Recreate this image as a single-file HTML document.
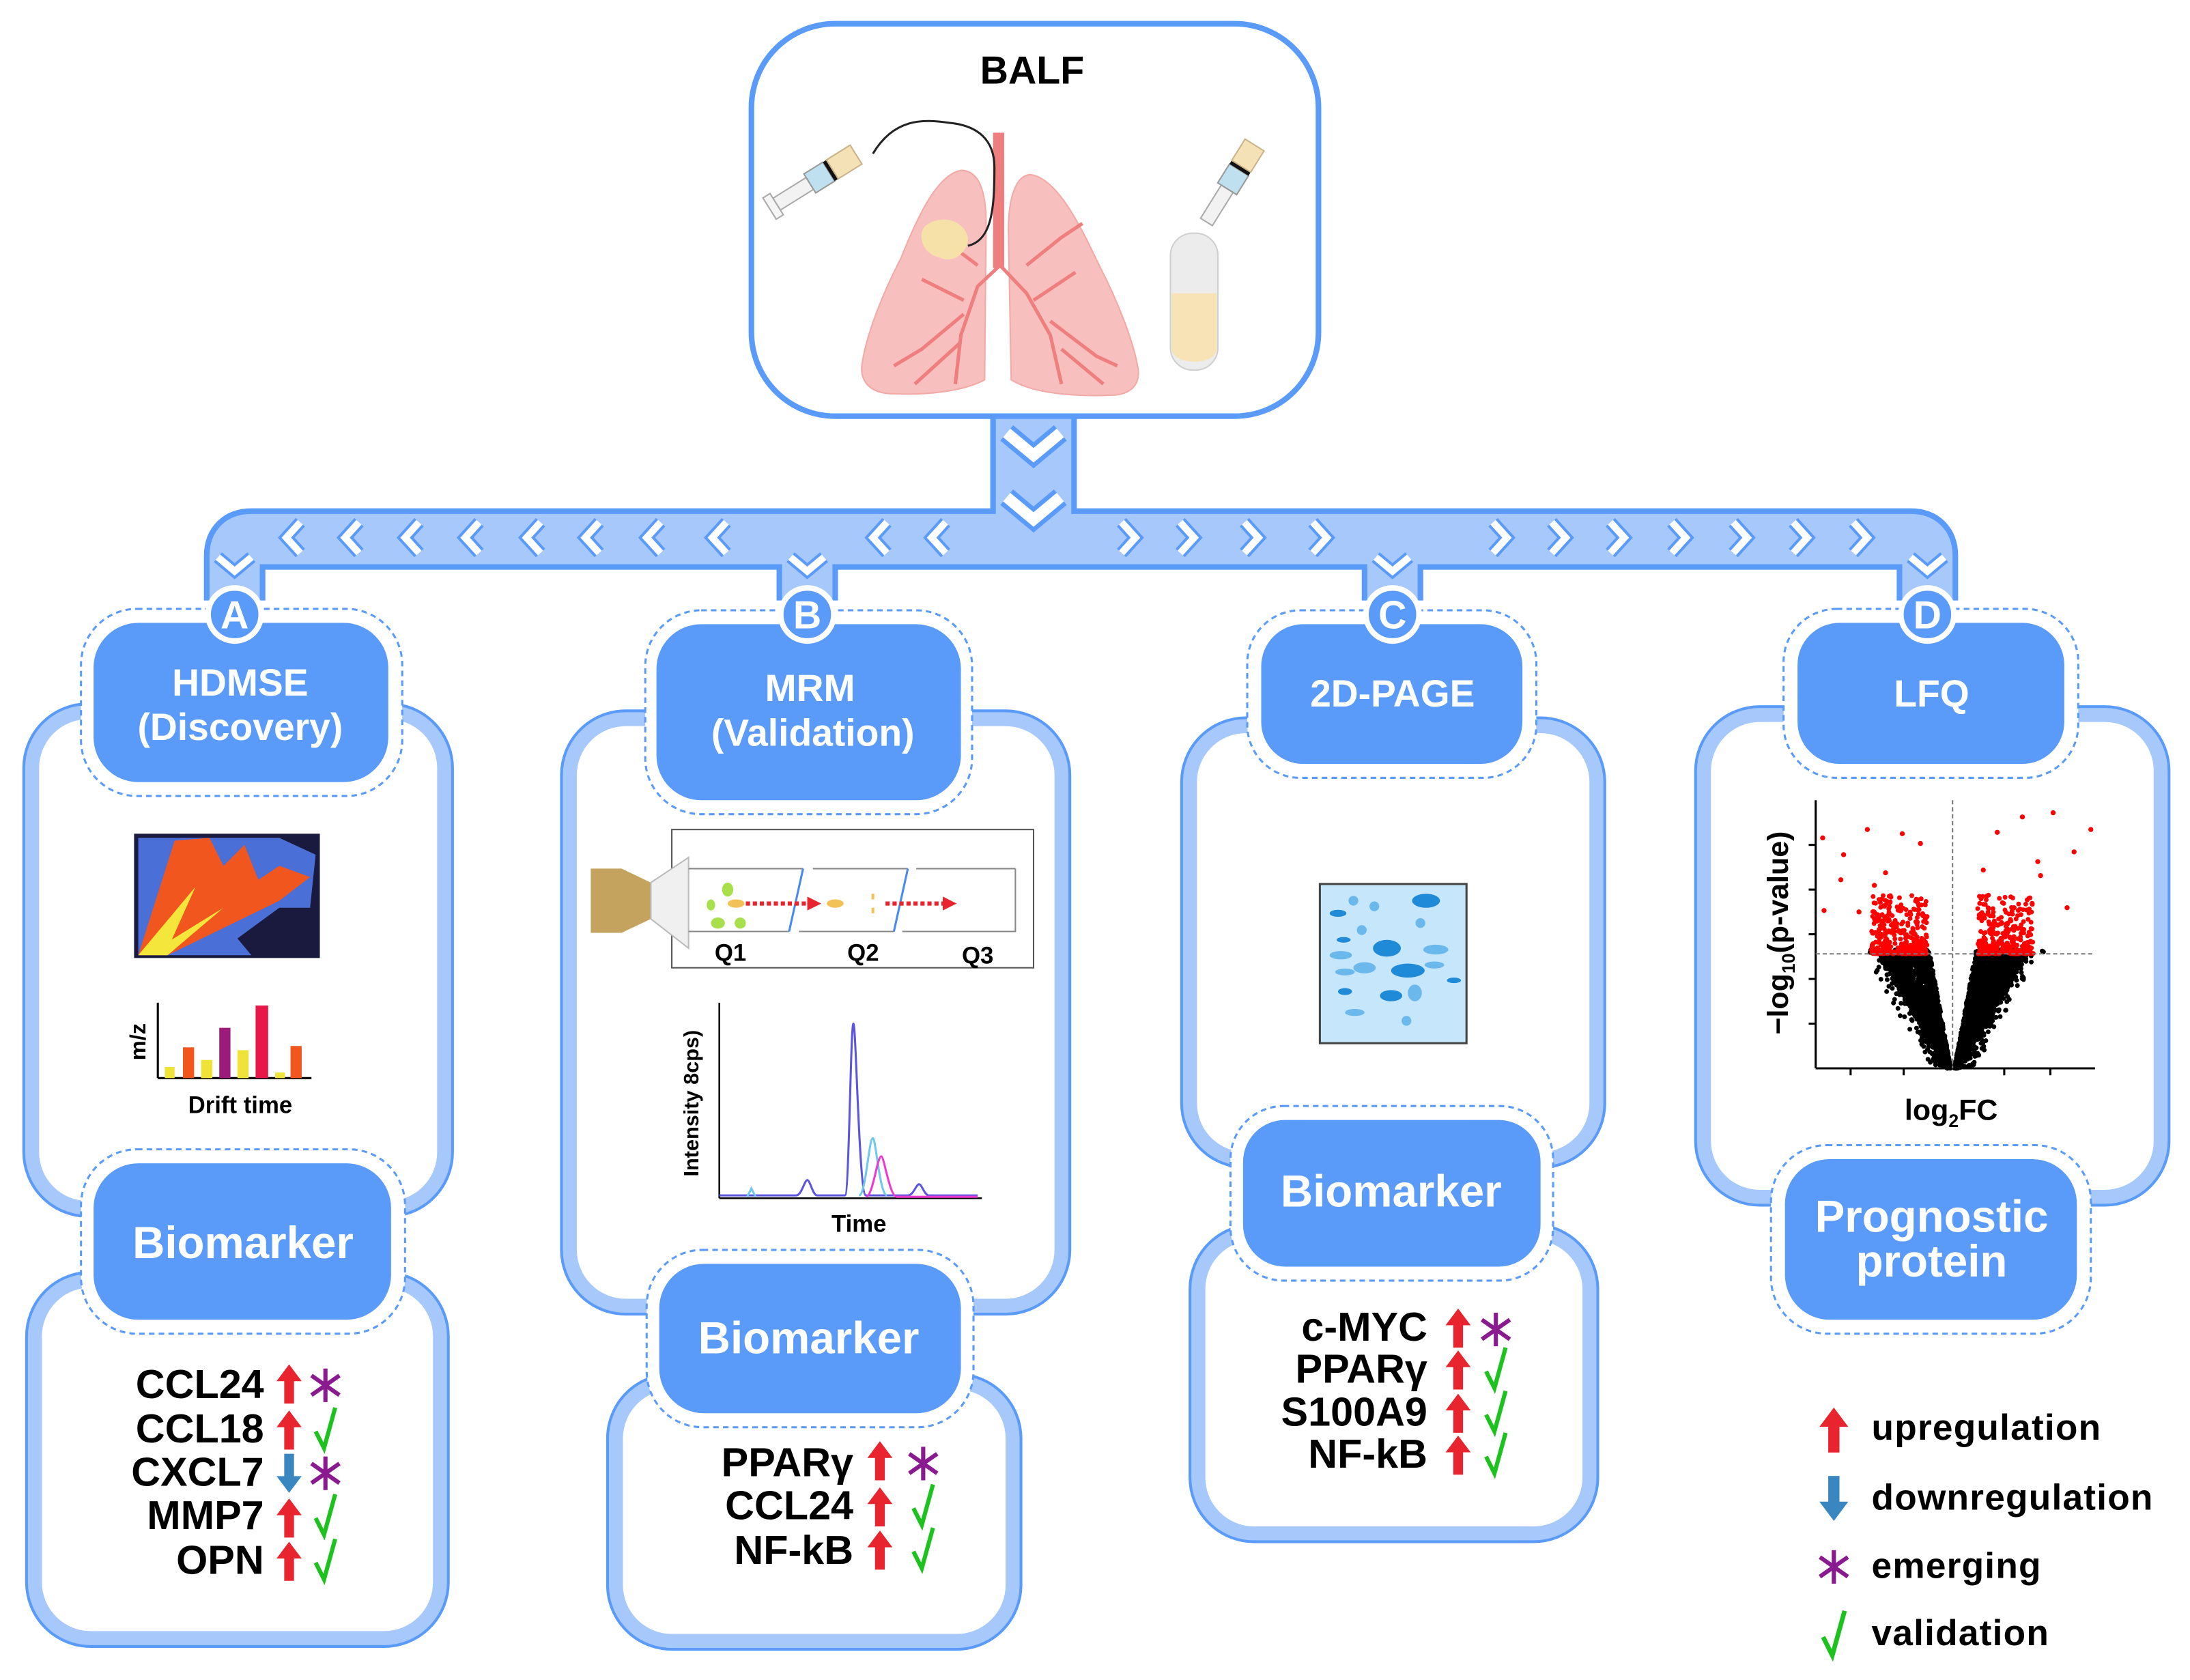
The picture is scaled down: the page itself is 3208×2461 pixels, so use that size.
<!DOCTYPE html>
<html><head><meta charset="utf-8">
<style>
html,body{margin:0;padding:0;background:#fff}
svg{display:block}
text{font-family:"Liberation Sans",Arial,sans-serif;font-weight:bold}
</style></head>
<body>
<svg id="s" width="3208" height="2461" viewBox="0 0 1568 1203" preserveAspectRatio="none" xmlns="http://www.w3.org/2000/svg">
<defs>
<g id="up"><polygon points="0,-14 9,-2 3.5,-2 3.5,14 -3.5,14 -3.5,-2 -9,-2" fill="#e8252f"/></g>
<g id="dn"><polygon points="0,14 9,2 3.5,2 3.5,-14 -3.5,-14 -3.5,2 -9,2" fill="#3a86c0"/></g>
<g id="ck"><path d="M-7,2 L-1,14 L7,-15" fill="none" stroke="#1ec21e" stroke-width="3"/></g>
<g id="st" stroke="#8a1a90" stroke-width="3"><line x1="0" y1="-12" x2="0" y2="12"/><line x1="-10" y1="-7" x2="10" y2="7"/><line x1="-10" y1="7" x2="10" y2="-7"/></g>
<g id="cl"><polyline points="7,-11 -3,0 7,11" fill="none" stroke="#5a9bfa" stroke-width="9" stroke-linejoin="miter"/><polyline points="7,-11 -3,0 7,11" fill="none" stroke="#fff" stroke-width="5"/></g>
<g id="cr"><polyline points="-7,-11 3,0 -7,11" fill="none" stroke="#5a9bfa" stroke-width="9"/><polyline points="-7,-11 3,0 -7,11" fill="none" stroke="#fff" stroke-width="5"/></g>
<g id="cd"><polyline points="-12,-5 0,5 12,-5" fill="none" stroke="#5a9bfa" stroke-width="9"/><polyline points="-12,-5 0,5 12,-5" fill="none" stroke="#fff" stroke-width="5"/></g>
</defs>

<!-- BALF box -->
<rect x="538" y="17" width="406" height="281" rx="60" fill="#fff" stroke="#5a9bfa" stroke-width="4"/>
<text x="739" y="60" font-size="28" text-anchor="middle" fill="#000">BALF</text>
<!-- lungs -->
<path d="M688,122 C670,125 655,160 645,185 C632,210 620,240 617,262 C616,275 625,282 640,282 C665,283 690,280 705,272 L706,160 C706,135 700,122 688,122Z" fill="#f7bfbd" stroke="#f3a9a6"/>
<path d="M738,125 C758,128 775,165 787,190 C800,215 812,245 815,265 C816,277 808,283 795,283 C770,284 740,282 724,272 L722,165 C722,140 728,125 738,125Z" fill="#f7bfbd" stroke="#f3a9a6"/>
<path d="M716,190 L700,205 L688,240 L684,275 M716,190 L735,210 L752,240 L760,275 M690,225 L660,250 L640,262 M690,215 L660,200 M688,245 L655,275 M752,230 L785,255 L800,262 M740,215 L770,195 M760,250 L790,275 M700,190 L680,175 M735,190 L760,170 M680,175 L665,165 M760,170 L775,160" fill="none" stroke="#ee7f7e" stroke-width="2.5"/>
<path d="M715,95 L715,192" fill="none" stroke="#ee7f7e" stroke-width="8"/>
<path d="M665,160 C655,165 660,182 672,184 C682,190 694,180 693,170 C690,158 676,154 665,160Z" fill="#f6e1a9"/>
<path d="M693,176 C710,172 712,150 712,120 C712,100 700,90 680,88 C660,85 640,85 625,110" fill="none" stroke="#222" stroke-width="1.5"/>
<!-- syringes -->
<g transform="translate(590,125) rotate(-32)"><rect x="-40" y="-5" width="28" height="10" fill="#f2f2f2" stroke="#aaa"/><rect x="-12" y="-8" width="16" height="16" fill="#bfe0ee" stroke="#999"/><rect x="4" y="-8" width="3" height="16" fill="#111"/><rect x="7" y="-8" width="20" height="16" fill="#f4e1b5" stroke="#c9b48a"/><rect x="-46" y="-9" width="6" height="18" fill="#f5f5f5" stroke="#aaa"/></g>
<g transform="translate(885,125) rotate(-58)"><rect x="-40" y="-5" width="28" height="10" fill="#f2f2f2" stroke="#aaa"/><rect x="-12" y="-8" width="16" height="16" fill="#bfe0ee" stroke="#999"/><rect x="4" y="-8" width="3" height="16" fill="#111"/><rect x="7" y="-8" width="18" height="16" fill="#f4e1b5" stroke="#c9b48a"/></g>
<rect x="838" y="167" width="34" height="98" rx="16" fill="#ececec" stroke="#cfcfcf"/>
<path d="M839,210 L871,210 L871,250 C871,262 839,262 839,250Z" fill="#f8e3b6"/>

<!-- connector bands -->
<g fill="none" stroke-linejoin="round" stroke-linecap="butt">
<path d="M168,430 L168,398 Q168,386 180,386 L1368,386 Q1380,386 1380,398 L1380,430 M578,386 L578,430 M997,386 L997,430" stroke="#5a9bfa" stroke-width="44"/>
<path d="M740,296 L740,386" stroke="#5a9bfa" stroke-width="62"/>
<path d="M168,432 L168,398 Q168,386 180,386 L1368,386 Q1380,386 1380,398 L1380,432 M578,386 L578,432 M997,386 L997,432" stroke="#a6c8fb" stroke-width="36"/>
<path d="M740,300 L740,386" stroke="#a6c8fb" stroke-width="54"/>
</g>
<use href="#cd" x="740" y="318" transform="translate(740,318) scale(1.6) translate(-740,-318)"/>
<use href="#cd" x="740" y="364" transform="translate(740,364) scale(1.6) translate(-740,-364)"/>
<use href="#cl" x="208" y="385"/><use href="#cl" x="250" y="385"/><use href="#cl" x="293" y="385"/><use href="#cl" x="336" y="385"/><use href="#cl" x="380" y="385"/><use href="#cl" x="422" y="385"/><use href="#cl" x="466" y="385"/><use href="#cl" x="513" y="385"/><use href="#cl" x="628" y="385"/><use href="#cl" x="670" y="385"/>
<use href="#cr" x="810" y="385"/><use href="#cr" x="852" y="385"/><use href="#cr" x="898" y="385"/><use href="#cr" x="947" y="385"/><use href="#cr" x="1076" y="385"/><use href="#cr" x="1118" y="385"/><use href="#cr" x="1160" y="385"/><use href="#cr" x="1204" y="385"/><use href="#cr" x="1248" y="385"/><use href="#cr" x="1291" y="385"/><use href="#cr" x="1334" y="385"/>
<use href="#cd" x="168" y="404"/><use href="#cd" x="578" y="404"/><use href="#cd" x="997" y="404"/><use href="#cd" x="1380" y="404"/>

<!-- outer band boxes -->
<g fill="#fff">
<g stroke="#5a9bfa" stroke-width="14">
<rect x="23" y="510" width="295" height="355" rx="40"/>
<rect x="25" y="917" width="290" height="256" rx="40"/>
<rect x="408" y="515" width="352" height="420" rx="40"/>
<rect x="441" y="990" width="284" height="185" rx="40"/>
<rect x="852" y="520" width="291" height="310" rx="40"/>
<rect x="858" y="883" width="280" height="215" rx="40"/>
<rect x="1220" y="512" width="327" height="345" rx="40"/>
</g>
<g stroke="#a6c8fb" stroke-width="10">
<rect x="23" y="510" width="295" height="355" rx="40"/>
<rect x="25" y="917" width="290" height="256" rx="40"/>
<rect x="408" y="515" width="352" height="420" rx="40"/>
<rect x="441" y="990" width="284" height="185" rx="40"/>
<rect x="852" y="520" width="291" height="310" rx="40"/>
<rect x="858" y="883" width="280" height="215" rx="40"/>
<rect x="1220" y="512" width="327" height="345" rx="40"/>
</g>
</g>

<!-- headers -->
<g>
<g fill="#fff" stroke="#5a9bfa" stroke-width="1.5" stroke-dasharray="4 3">
<rect x="58" y="436" width="230" height="134" rx="40"/>
<rect x="58" y="823" width="232" height="132" rx="40"/>
<rect x="462" y="437" width="234" height="146" rx="40"/>
<rect x="463" y="895" width="234" height="127" rx="40"/>
<rect x="893" y="437" width="207" height="120" rx="38"/>
<rect x="881" y="792" width="231" height="125" rx="38"/>
<rect x="1277" y="436" width="211" height="121" rx="38"/>
<rect x="1268" y="820" width="229" height="135" rx="40"/>
</g>
<g fill="#5a9bfa">
<rect x="67" y="446" width="211" height="114" rx="32"/>
<rect x="67" y="833" width="213" height="112" rx="32"/>
<rect x="470" y="447" width="218" height="126" rx="32"/>
<rect x="472" y="905" width="216" height="107" rx="32"/>
<rect x="903" y="447" width="187" height="100" rx="30"/>
<rect x="890" y="802" width="213" height="105" rx="30"/>
<rect x="1287" y="446" width="191" height="101" rx="30"/>
<rect x="1278" y="830" width="209" height="115" rx="32"/>
</g>
<g fill="#fff" font-size="27" text-anchor="middle">
<text x="172" y="498">HDMSE</text><text x="172" y="530">(Discovery)</text>
<text x="174" y="901" font-size="32">Biomarker</text>
<text x="580" y="502">MRM</text><text x="582" y="534">(Validation)</text>
<text x="579" y="969" font-size="32">Biomarker</text>
<text x="997" y="506">2D-PAGE</text>
<text x="996" y="864" font-size="32">Biomarker</text>
<text x="1383" y="506">LFQ</text>
<text x="1383" y="882" font-size="32">Prognostic</text><text x="1383" y="914" font-size="32">protein</text>
</g>
</g>
<!-- letter circles -->
<g stroke="#fff" stroke-width="4" fill="#5a9bfa">
<circle cx="168" cy="440" r="19"/><circle cx="578" cy="440" r="19"/><circle cx="997" cy="440" r="19"/><circle cx="1380" cy="440" r="19"/>
</g>
<g fill="#fff" font-size="28" text-anchor="middle">
<text x="168" y="450">A</text><text x="578" y="450">B</text><text x="997" y="450">C</text><text x="1380" y="450">D</text>
</g>

<!-- HDMSE image -->
<rect x="96" y="597" width="133" height="89" fill="#1a1a3e"/>
<path d="M99,600 L200,600 L226,612 L222,650 L200,650 L170,672 L180,684 L99,684Z" fill="#4a6fd6"/>
<path d="M99,684 L125,602 L150,600 L160,620 L175,605 L185,630 L200,620 L222,628 L200,645 L120,684Z" fill="#f0561e"/>
<path d="M99,684 L140,635 L118,684Z M105,684 L160,650 L120,684Z" fill="#f4e63a"/>
<!-- bar chart -->
<g><line x1="113" y1="718" x2="113" y2="772" stroke="#000" stroke-width="1.5"/><line x1="113" y1="772" x2="223" y2="772" stroke="#000" stroke-width="1.5"/>
<rect x="118" y="764" width="7" height="8" fill="#efe33a"/><rect x="131" y="750" width="8" height="22" fill="#f0561e"/><rect x="144" y="759" width="8" height="13" fill="#efe33a"/><rect x="157" y="736" width="8" height="36" fill="#9b1a7a"/><rect x="170" y="752" width="8" height="20" fill="#efe33a"/><rect x="183" y="720" width="9" height="52" fill="#e8174a"/><rect x="197" y="768" width="7" height="4" fill="#efe33a"/><rect x="208" y="749" width="8" height="23" fill="#f0561e"/></g>
<text x="104" y="746" font-size="16" transform="rotate(-90 104 746)" text-anchor="middle">m/z</text>
<text x="172" y="797" font-size="17" text-anchor="middle">Drift time</text>

<!-- MRM diagram -->
<rect x="481" y="594" width="259" height="99" fill="#fff" stroke="#555" stroke-width="1"/>
<polygon points="423,622 445,622 466,632 466,658 445,668 423,668" fill="#c3a35e"/>
<polygon points="466,632 493,614 493,679 466,658" fill="#f0f0f0" stroke="#bbb"/>
<g stroke="#888" fill="none"><path d="M493,622 L575,622 M493,667 L565,667 M582,622 L650,622 M572,667 L640,667 M656,622 L727,622 M646,667 L727,667 L727,622"/></g>
<g stroke="#4a8af0" stroke-width="1.5"><line x1="575" y1="622" x2="565" y2="667"/><line x1="650" y1="622" x2="640" y2="667"/></g>
<g fill="#a7e04a"><ellipse cx="521" cy="637" rx="4" ry="5"/><ellipse cx="509" cy="648" rx="3" ry="4"/><ellipse cx="514" cy="661" rx="5" ry="4"/><ellipse cx="530" cy="661" rx="4" ry="4"/></g>
<g fill="#f2c257"><ellipse cx="527" cy="647" rx="6" ry="3"/><ellipse cx="598" cy="647" rx="6" ry="3"/><rect x="624" y="640" width="2" height="4"/><rect x="624" y="650" width="2" height="4"/></g>
<line x1="534" y1="647" x2="578" y2="647" stroke="#e8252f" stroke-width="3" stroke-dasharray="3 2"/><polygon points="578,642 588,647 578,652" fill="#e8252f"/>
<line x1="634" y1="647" x2="675" y2="647" stroke="#e8252f" stroke-width="3" stroke-dasharray="3 2"/><polygon points="675,642 685,647 675,652" fill="#e8252f"/>
<g font-size="17" text-anchor="middle"><text x="523" y="688">Q1</text><text x="618" y="688">Q2</text><text x="700" y="690">Q3</text></g>
<!-- chromatogram -->
<g stroke="#000" stroke-width="1.2"><line x1="515" y1="718" x2="515" y2="858"/><line x1="515" y1="858" x2="703" y2="858"/></g>
<path d="M515,856 L570,856 C574,856 576,845 578,845 C580,845 582,856 585,856 L605,856 C608,856 609,733 611,733 C613,733 615,856 620,856 L650,856 C654,856 656,848 658,848 C660,848 662,856 665,856 L700,856" fill="none" stroke="#5b55e0" stroke-width="1.5"/>
<path d="M535,857 L538,851 L541,857 M615,856 C620,856 622,815 625,815 C627,815 630,856 635,856" fill="none" stroke="#70c8ec" stroke-width="1.5"/>
<path d="M620,857 C625,857 628,828 631,828 C633,828 637,857 642,857 L700,857" fill="none" stroke="#ee3ad0" stroke-width="1.5"/>
<text x="500" y="790" font-size="15" transform="rotate(-90 500 790)" text-anchor="middle">Intensity 8cps)</text>
<text x="615" y="882" font-size="17" text-anchor="middle">Time</text>

<!-- 2D gel -->
<rect x="945" y="633" width="105" height="114" fill="#c6e6fb" stroke="#444" stroke-width="1.5"/>
<g fill="#1f8ad8"><ellipse cx="1021" cy="645" rx="10" ry="5"/><ellipse cx="958" cy="654" rx="6" ry="2.5"/><ellipse cx="993" cy="679" rx="10" ry="6"/><ellipse cx="1008" cy="695" rx="12" ry="5"/><ellipse cx="962" cy="673" rx="5" ry="2"/><ellipse cx="963" cy="710" rx="5" ry="2.5"/><ellipse cx="996" cy="713" rx="8" ry="4"/><ellipse cx="1041" cy="702" rx="5" ry="2"/></g>
<g fill="#6bb8ec"><circle cx="969" cy="645" r="3.5"/><circle cx="984" cy="649" r="3.5"/><circle cx="975" cy="666" r="3.5"/><circle cx="1017" cy="661" r="3.5"/><ellipse cx="1028" cy="680" rx="9" ry="3.5"/><ellipse cx="960" cy="684" rx="8" ry="3"/><ellipse cx="977" cy="693" rx="8" ry="4"/><ellipse cx="963" cy="696" rx="7" ry="2.5"/><ellipse cx="1027" cy="691" rx="7" ry="2.5"/><ellipse cx="1013" cy="711" rx="5" ry="6"/><ellipse cx="970" cy="725" rx="7" ry="2.5"/><circle cx="1007" cy="731" r="3.5"/></g>

<!-- volcano -->
<g id="volc"></g>
<g stroke="#000" stroke-width="1.5"><line x1="1300" y1="573" x2="1300" y2="765"/><line x1="1300" y1="765" x2="1500" y2="765"/>
<line x1="1295" y1="605" x2="1300" y2="605"/><line x1="1295" y1="637" x2="1300" y2="637"/><line x1="1295" y1="669" x2="1300" y2="669"/><line x1="1295" y1="701" x2="1300" y2="701"/><line x1="1295" y1="733" x2="1300" y2="733"/>
<line x1="1325" y1="765" x2="1325" y2="770"/><line x1="1363" y1="765" x2="1363" y2="770"/><line x1="1435" y1="765" x2="1435" y2="770"/><line x1="1468" y1="765" x2="1468" y2="770"/></g>
<g stroke="#777" stroke-width="1" stroke-dasharray="3 2"><line x1="1398" y1="573" x2="1398" y2="765"/><line x1="1300" y1="683" x2="1500" y2="683"/></g>
<text x="1280" y="668" font-size="21" transform="rotate(-90 1280 668)" text-anchor="middle">−log<tspan font-size="13" dy="5">10</tspan><tspan dy="-5">(p-value)</tspan></text>
<text x="1397" y="802" font-size="21" text-anchor="middle">log<tspan font-size="13" dy="5">2</tspan><tspan dy="-5">FC</tspan></text>

<!-- lists -->
<g font-size="29" text-anchor="end" fill="#000">
<text x="189" y="1001">CCL24</text><text x="189" y="1033">CCL18</text><text x="189" y="1064">CXCL7</text><text x="189" y="1095">MMP7</text><text x="189" y="1127">OPN</text>
<text x="611" y="1057">PPARγ</text><text x="611" y="1088">CCL24</text><text x="611" y="1120">NF-kB</text>
<text x="1022" y="960">c-MYC</text><text x="1022" y="990">PPARγ</text><text x="1022" y="1021">S100A9</text><text x="1022" y="1051">NF-kB</text>
</g>
<use href="#up" x="207" y="991"/><use href="#st" x="233" y="992"/>
<use href="#up" x="207" y="1024"/><use href="#ck" x="233" y="1023"/>
<use href="#dn" x="207" y="1055"/><use href="#st" x="233" y="1055"/>
<use href="#up" x="207" y="1087"/><use href="#ck" x="233" y="1085"/>
<use href="#up" x="207" y="1118"/><use href="#ck" x="233" y="1117"/>
<use href="#up" x="630" y="1046"/><use href="#st" x="661" y="1048"/>
<use href="#up" x="630" y="1079"/><use href="#ck" x="661" y="1078"/>
<use href="#up" x="630" y="1110"/><use href="#ck" x="661" y="1109"/>
<use href="#up" x="1044" y="951"/><use href="#st" x="1071" y="952"/>
<use href="#up" x="1044" y="981"/><use href="#ck" x="1071" y="980"/>
<use href="#up" x="1044" y="1012"/><use href="#ck" x="1071" y="1011"/>
<use href="#up" x="1044" y="1042"/><use href="#ck" x="1071" y="1041"/>
<!-- legend -->
<use href="#up" x="1313" y="1024" transform="translate(1313,1024) scale(1.15) translate(-1313,-1024)"/>
<use href="#dn" x="1313" y="1073" transform="translate(1313,1073) scale(1.15) translate(-1313,-1073)"/>
<use href="#st" x="1313" y="1122"/>
<use href="#ck" x="1313" y="1170" transform="translate(1313,1170) scale(1.1) translate(-1313,-1170)"/>
<g font-size="26" fill="#000" letter-spacing="0.6">
<text x="1340" y="1031">upregulation</text><text x="1340" y="1081">downregulation</text><text x="1340" y="1130">emerging</text><text x="1340" y="1178">validation</text>
</g>
</svg>
<script>
(function(){
var g=document.getElementById('volc'),seed=7;
function r(){seed=(seed*16807)%2147483647;return (seed-1)/2147483646;}
var h='';
for(var i=0;i<4500;i++){
 var side=r()<0.5?-1:1; var t=r(); var y=765-t*85;
 var w=4+t*52+(r()<0.15?r()*12:0); var x=1398+side*(w*(0.3+0.7*r()));
 h+='<circle cx="'+x.toFixed(1)+'" cy="'+y.toFixed(1)+'" r="1.7" fill="#000"/>';
}
for(var i=0;i<650;i++){
 var side=r()<0.5?-1:1; var t=r(); var y=683-t*t*42; var x=1398+side*(18+r()*40);
 h+='<circle cx="'+x.toFixed(1)+'" cy="'+y.toFixed(1)+'" r="1.7" fill="#f00"/>';
}
var pts=[[1305,600],[1320,612],[1337,594],[1362,597],[1375,604],[1350,625],[1318,630],[1331,653],[1342,634],[1420,623],[1430,596],[1448,585],[1470,582],[1497,594],[1485,610],[1461,627],[1480,650],[1459,617],[1442,650],[1306,652]];
pts.forEach(function(p){h+='<circle cx="'+p[0]+'" cy="'+p[1]+'" r="1.8" fill="#f00"/>';});
g.innerHTML=h;
})();
</script>
</body></html>
